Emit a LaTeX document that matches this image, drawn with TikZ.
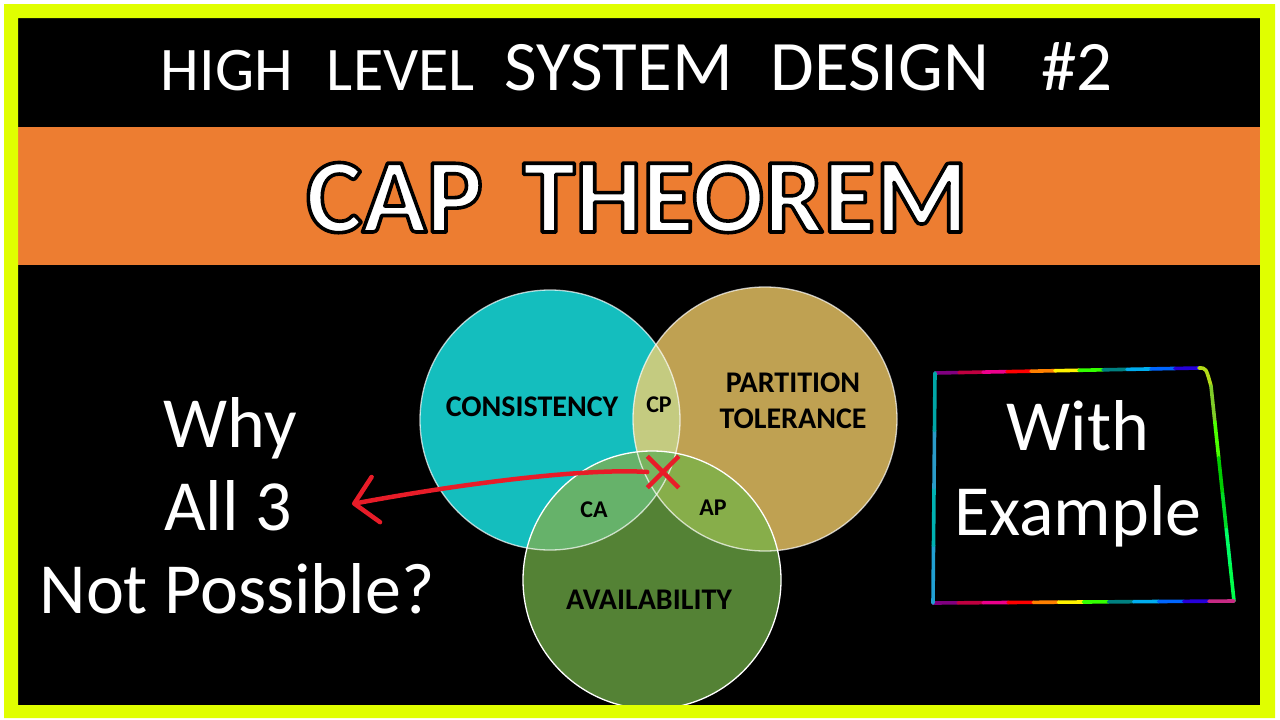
\documentclass[tikz,border=0pt]{standalone}
\usepackage{fontspec}
\setmainfont{Carlito}
\usepackage{xcolor}
\usepackage{tikz}
\usetikzlibrary{positioning, arrows.meta, calc, shapes.misc}

\definecolor{FrameLime}{RGB}{224,255,0}
\definecolor{BandOrange}{RGB}{237,125,49}
\definecolor{CTeal}{RGB}{20,190,190}
\definecolor{PTan}{RGB}{191,161,82}
\definecolor{AGreen}{RGB}{84,130,53}
\definecolor{CPMix}{RGB}{196,203,128}
\definecolor{CAMix}{RGB}{102,178,106}
\definecolor{APMix}{RGB}{135,174,74}
\definecolor{CPAMix}{RGB}{120,180,95}
\definecolor{PenRed}{RGB}{232,28,40}

% white letters with a black stroke round them (fill+stroke render mode)
\newcommand\haloText[1]{%
  \special{pdf:literal direct 2 Tr 3.6 w 1 j 0 G}#1\special{pdf:literal direct 0 Tr}}

\begin{document}
\begin{tikzpicture}[x=1pt, y=-1pt,
      hdr/.style={font=\fontsize{62}{70}\selectfont, white, inner sep=0pt, anchor=base},
      bigtxt/.style={font=\fontsize{72}{80}\selectfont, white, inner sep=0pt, anchor=base},
      setlbl/.style={font=\fontsize{30}{36}\selectfont\bfseries, black, inner sep=0pt},
      pairlbl/.style={font=\fontsize{24}{26}\selectfont\bfseries, black, inner sep=0pt, anchor=base},
      rim/.style={draw=white, line width=1.3pt},
      glitter/.style={line width=3.6pt, line cap=round},
      redpen/.style={draw=PenRed, line width=4.5pt, line cap=round}
    ]
    \useasboundingbox (0,0) rectangle (1280,720);
    \fill[white] (0,0) rectangle (1280,720);
    \fill[black] (18,18) rectangle (1260,705);

    % Header
    \node[hdr] (series) at (637,90) {HIGH\hspace{34pt}LEVEL\hspace{30pt}{\fontsize{71}{76}\selectfont SYSTEM\hspace{38pt}DESIGN\hspace{52pt}\#2}};

    % Orange title band
    \fill[BandOrange] (18,127) rectangle (1260,265);

    % Venn circles
    \coordinate (cC) at (550,420);
    \coordinate (cP) at (765,419);
    \coordinate (cA) at (652,580);
    \fill[CTeal] (cC) circle[radius=130];
    \fill[PTan]  (cP) circle[radius=132];
    \fill[AGreen] (cA) circle[radius=129];
    \begin{scope}
      \clip (cC) circle[radius=130];
      \fill[CPMix] (cP) circle[radius=132];
      \fill[CAMix] (cA) circle[radius=129];
    \end{scope}
    \begin{scope}
      \clip (cP) circle[radius=132];
      \fill[APMix] (cA) circle[radius=129];
    \end{scope}
    \begin{scope}
      \clip (cC) circle[radius=130];
      \clip (cP) circle[radius=132];
      \fill[CPAMix] (cA) circle[radius=129];
    \end{scope}
    \draw[rim, draw opacity=0.7] (cC) circle[radius=130];
    \draw[rim, draw opacity=0.7] (cP) circle[radius=132];
    \draw[rim] (cA) circle[radius=129];

    % Set labels
    \node[setlbl, anchor=base] (cons) at (532,416) {CONSISTENCY};
    \node[setlbl, align=center] (part) at (793,401) {PARTITION\\TOLERANCE};
    \node[setlbl, anchor=base] (avail) at (649,609) {AVAILABILITY};
    \node[pairlbl] (cp) at (659,412) {CP};
    \node[pairlbl] (ca) at (594,517) {CA};
    \node[pairlbl] (ap) at (713,515) {AP};

    % Red cross and arrow
    \node[cross out, draw=PenRed, line width=4.5pt, minimum size=27pt, inner sep=0pt] (xmark) at (663,472) {};
    \coordinate (tip) at (352,504);
    \draw[redpen, -{Straight Barb[length=22pt, width=46pt, round]}]
          (xmark.west) .. controls (590,468) and (470,482) .. (tip);

    % Left question
    \node[bigtxt] (why) at (230,447) {Why};
    \node[bigtxt] (allthree) at (228,530) {All 3};
    \node[bigtxt] (notpos) at (237,613) {Not Possible?};

    % Right box
    \node[bigtxt] (with) at (1078,450) {With};
    \node[bigtxt] (example) at (1078,535) {Example};
    \coordinate (bxTL) at (935,373);
    \coordinate (bxTR) at (1199,368);
    \coordinate (bxRC) at (1211,386);
    \coordinate (bxBR) at (1234,601);
    \coordinate (bxBL) at (933,603);
    \foreach \col [count=\i from 0] in {violet, purple, magenta, red, orange, yellow,
        green!80!yellow, teal, cyan, blue!60!cyan, blue!70!violet}
      \draw[glitter, \col] ($(bxTL)!\i/11!(bxTR)$) -- ($(bxTL)!{(\i+1)/11}!(bxTR)$);
    \draw[glitter, yellow!70!green] (bxTR) .. controls (1206,368) .. (bxRC);
    \foreach \col [count=\i from 0] in {yellow!50!green, green!70!yellow, green!80!black,
        green!70!teal, green!60!cyan, green!70!cyan}
      \draw[glitter, \col] ($(bxRC)!\i/6!(bxBR)$) -- ($(bxRC)!{(\i+1)/6}!(bxBR)$);
    \foreach \col [count=\i from 0] in {violet, purple, magenta, red, orange, yellow,
        green!80!yellow, teal, cyan, blue!60!cyan, blue!70!violet, magenta!60!violet}
      \draw[glitter, \col] ($(bxBL)!\i/12!(bxBR)$) -- ($(bxBL)!{(\i+1)/12}!(bxBR)$);
    \foreach \col [count=\i from 0] in {cyan!70!teal, teal!60!cyan, cyan!60!teal, teal!70!cyan}
      \draw[glitter, \col] ($(bxBL)!\i/4!(bxTL)$) -- ($(bxBL)!{(\i+1)/4}!(bxTL)$);

    % Lime frame
    \fill[FrameLime, even odd rule] (4,4) rectangle (1275,718) (18,18) rectangle (1260,705);

    % Title last, so its stroke settings touch nothing after it
    \node[font=\fontsize{106}{110}\selectfont\bfseries, white, inner sep=0pt, anchor=base]
          (title) at (637,232) {\haloText{CAP\hspace{40pt}THEOREM}};
  \end{tikzpicture}
\end{document}
